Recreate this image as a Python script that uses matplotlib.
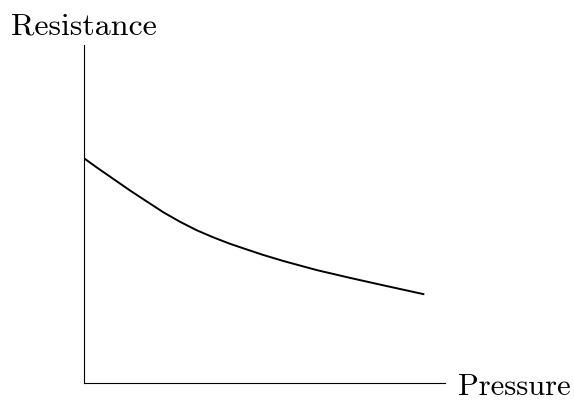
import matplotlib.pyplot as plt

# values (arbitrary units)
pressure = [0.0, 0.035, 0.081, 0.127, 0.174, 0.220, 0.266, 0.312, 0.358,
            0.404, 0.451, 0.496, 0.552, 0.645, 0.737, 0.829, 0.940]
resistance = [0.665, 0.638, 0.604, 0.570, 0.537, 0.505, 0.477, 0.452, 0.431,
              0.412, 0.395, 0.379, 0.361, 0.334, 0.311, 0.289, 0.263]

x_label = "Pressure"
y_label = "Resistance"

plt.rcParams['font.family'] = ['cmr10', 'DejaVu Serif']

fig = plt.figure(figsize=(5.74, 4.0), dpi=100)
ax = fig.add_axes([0.1463, 0.0425, 0.629, 0.845])

ax.plot(pressure, resistance, color='black', lw=1.4)

ax.set_xlim(0, 1)
ax.set_ylim(0, 1)
for side in ('top', 'right'):
    ax.spines[side].set_visible(False)
for side in ('left', 'bottom'):
    ax.spines[side].set_linewidth(0.8)
ax.set_xticks([])
ax.set_yticks([])

ax.text(0, 1.0325, y_label, transform=ax.transAxes, ha='center', va='baseline', fontsize=23)
ax.text(1.036, -0.0355, x_label, transform=ax.transAxes, ha='left', va='baseline', fontsize=22)

fig.savefig('out.png', dpi=100)
